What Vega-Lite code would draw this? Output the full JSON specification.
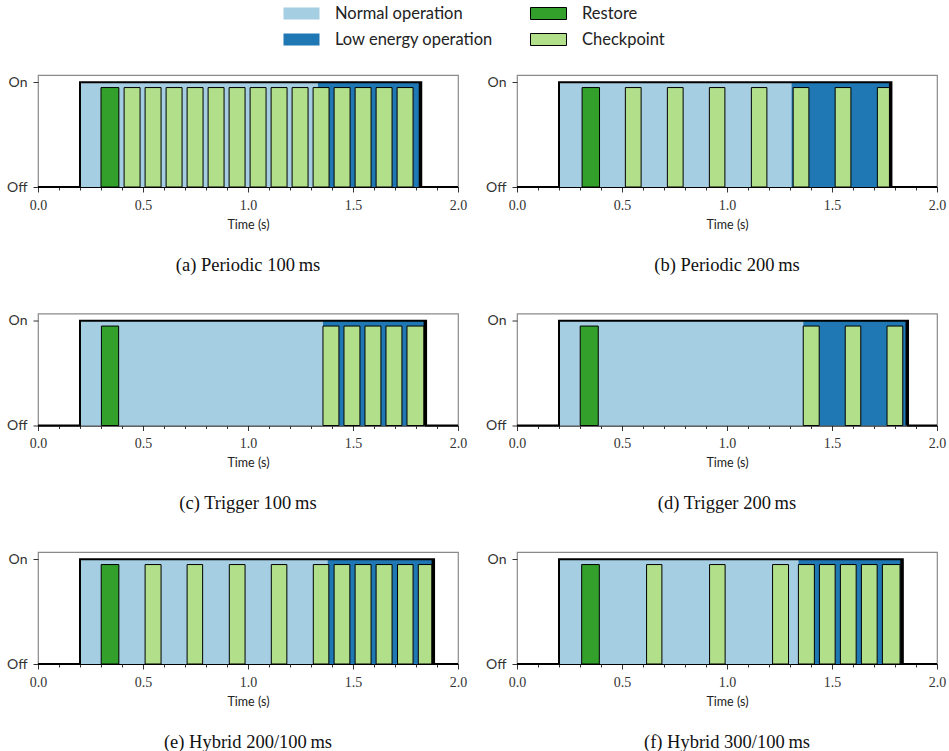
{
  "$schema": "https://vega.github.io/schema/vega-lite/v6.json",
  "padding": {"left": 5, "top": 1, "right": 0, "bottom": 0},
  "datasets": {
    "ops": [
      {"p": "a", "type": "Normal operation", "start": 0.2, "end": 1.333},
      {"p": "a", "type": "Low energy operation", "start": 1.333, "end": 1.825},
      {"p": "b", "type": "Normal operation", "start": 0.2, "end": 1.307},
      {"p": "b", "type": "Low energy operation", "start": 1.307, "end": 1.783},
      {"p": "c", "type": "Normal operation", "start": 0.2, "end": 1.357},
      {"p": "c", "type": "Low energy operation", "start": 1.357, "end": 1.848},
      {"p": "d", "type": "Normal operation", "start": 0.2, "end": 1.363},
      {"p": "d", "type": "Low energy operation", "start": 1.363, "end": 1.862},
      {"p": "e", "type": "Normal operation", "start": 0.2, "end": 1.379},
      {"p": "e", "type": "Low energy operation", "start": 1.379, "end": 1.886},
      {"p": "f", "type": "Normal operation", "start": 0.2, "end": 1.34},
      {"p": "f", "type": "Low energy operation", "start": 1.34, "end": 1.837}
    ],
    "events": [
      {"p": "a", "type": "Restore", "start": 0.3, "end": 0.385},
      {"p": "a", "type": "Checkpoint", "start": 0.41, "end": 0.486},
      {"p": "a", "type": "Checkpoint", "start": 0.51, "end": 0.586},
      {"p": "a", "type": "Checkpoint", "start": 0.61, "end": 0.686},
      {"p": "a", "type": "Checkpoint", "start": 0.71, "end": 0.786},
      {"p": "a", "type": "Checkpoint", "start": 0.81, "end": 0.886},
      {"p": "a", "type": "Checkpoint", "start": 0.91, "end": 0.986},
      {"p": "a", "type": "Checkpoint", "start": 1.01, "end": 1.086},
      {"p": "a", "type": "Checkpoint", "start": 1.11, "end": 1.186},
      {"p": "a", "type": "Checkpoint", "start": 1.21, "end": 1.286},
      {"p": "a", "type": "Checkpoint", "start": 1.31, "end": 1.386},
      {"p": "a", "type": "Checkpoint", "start": 1.41, "end": 1.486},
      {"p": "a", "type": "Checkpoint", "start": 1.51, "end": 1.586},
      {"p": "a", "type": "Checkpoint", "start": 1.61, "end": 1.686},
      {"p": "a", "type": "Checkpoint", "start": 1.71, "end": 1.786},
      {"p": "b", "type": "Restore", "start": 0.31, "end": 0.393},
      {"p": "b", "type": "Checkpoint", "start": 0.516, "end": 0.591},
      {"p": "b", "type": "Checkpoint", "start": 0.716, "end": 0.791},
      {"p": "b", "type": "Checkpoint", "start": 0.916, "end": 0.99},
      {"p": "b", "type": "Checkpoint", "start": 1.116, "end": 1.19},
      {"p": "b", "type": "Checkpoint", "start": 1.315, "end": 1.39},
      {"p": "b", "type": "Checkpoint", "start": 1.515, "end": 1.59},
      {"p": "b", "type": "Checkpoint", "start": 1.716, "end": 1.777},
      {"p": "c", "type": "Restore", "start": 0.302, "end": 0.384},
      {"p": "c", "type": "Checkpoint", "start": 1.357, "end": 1.433},
      {"p": "c", "type": "Checkpoint", "start": 1.457, "end": 1.533},
      {"p": "c", "type": "Checkpoint", "start": 1.557, "end": 1.633},
      {"p": "c", "type": "Checkpoint", "start": 1.657, "end": 1.733},
      {"p": "c", "type": "Checkpoint", "start": 1.757, "end": 1.838},
      {"p": "d", "type": "Restore", "start": 0.301, "end": 0.387},
      {"p": "d", "type": "Checkpoint", "start": 1.363, "end": 1.439},
      {"p": "d", "type": "Checkpoint", "start": 1.563, "end": 1.637},
      {"p": "d", "type": "Checkpoint", "start": 1.762, "end": 1.837},
      {"p": "e", "type": "Restore", "start": 0.301, "end": 0.385},
      {"p": "e", "type": "Checkpoint", "start": 0.51, "end": 0.586},
      {"p": "e", "type": "Checkpoint", "start": 0.71, "end": 0.784},
      {"p": "e", "type": "Checkpoint", "start": 0.911, "end": 0.986},
      {"p": "e", "type": "Checkpoint", "start": 1.111, "end": 1.185},
      {"p": "e", "type": "Checkpoint", "start": 1.311, "end": 1.385},
      {"p": "e", "type": "Checkpoint", "start": 1.41, "end": 1.485},
      {"p": "e", "type": "Checkpoint", "start": 1.51, "end": 1.586},
      {"p": "e", "type": "Checkpoint", "start": 1.61, "end": 1.686},
      {"p": "e", "type": "Checkpoint", "start": 1.712, "end": 1.786},
      {"p": "e", "type": "Checkpoint", "start": 1.811, "end": 1.876},
      {"p": "f", "type": "Restore", "start": 0.308, "end": 0.392},
      {"p": "f", "type": "Checkpoint", "start": 0.617, "end": 0.69},
      {"p": "f", "type": "Checkpoint", "start": 0.917, "end": 0.991},
      {"p": "f", "type": "Checkpoint", "start": 1.217, "end": 1.293},
      {"p": "f", "type": "Checkpoint", "start": 1.34, "end": 1.416},
      {"p": "f", "type": "Checkpoint", "start": 1.44, "end": 1.515},
      {"p": "f", "type": "Checkpoint", "start": 1.54, "end": 1.615},
      {"p": "f", "type": "Checkpoint", "start": 1.64, "end": 1.715},
      {"p": "f", "type": "Checkpoint", "start": 1.74, "end": 1.824}
    ],
    "power": [
      {"p": "a", "t": 0, "v": 0}, {"p": "a", "t": 0.2, "v": 1}, {"p": "a", "t": 1.825, "v": 0}, {"p": "a", "t": 2, "v": 0},
      {"p": "b", "t": 0, "v": 0}, {"p": "b", "t": 0.2, "v": 1}, {"p": "b", "t": 1.783, "v": 0}, {"p": "b", "t": 2, "v": 0},
      {"p": "c", "t": 0, "v": 0}, {"p": "c", "t": 0.2, "v": 1}, {"p": "c", "t": 1.848, "v": 0}, {"p": "c", "t": 2, "v": 0},
      {"p": "d", "t": 0, "v": 0}, {"p": "d", "t": 0.2, "v": 1}, {"p": "d", "t": 1.862, "v": 0}, {"p": "d", "t": 2, "v": 0},
      {"p": "e", "t": 0, "v": 0}, {"p": "e", "t": 0.2, "v": 1}, {"p": "e", "t": 1.886, "v": 0}, {"p": "e", "t": 2, "v": 0},
      {"p": "f", "t": 0, "v": 0}, {"p": "f", "t": 0.2, "v": 1}, {"p": "f", "t": 1.837, "v": 0}, {"p": "f", "t": 2, "v": 0}
    ]
  },
  "columns": 2,
  "spacing": {"row": 37.5, "column": 16},
  "concat": [
    {
      "width": 420, "height": 112,
      "title": {"text": "(a) Periodic 100\u2009ms", "orient": "bottom", "offset": 25},
      "resolve": {"axis": {"x": "independent"}},
      "layer": [
        {"data": {"name": "ops"}, "transform": [{"filter": "datum.p == 'a'"}], "mark": {"type": "rect"},
         "encoding": {
           "x": {"field": "start", "type": "quantitative", "title": "Time (s)", "scale": {"domain": [0, 2], "nice": false, "zero": false},
                 "axis": {"orient": "bottom", "values": [0, 0.5, 1, 1.5, 2], "format": ".1f", "tickSize": 5}},
           "x2": {"field": "end"},
           "y": {"datum": 0, "type": "quantitative", "title": null, "scale": {"domain": [0, 1.07], "nice": false, "zero": false}, "axis": {"values": [0, 1], "labelExpr": "datum.value >= 1 ? 'On' : 'Off'"}},
           "y2": {"datum": 1},
           "fill": {"field": "type", "type": "nominal", "scale": {"domain": ["Normal operation", "Low energy operation", "Restore", "Checkpoint"], "range": ["#a6cee3", "#1f78b4", "#33a02c", "#b2df8a"]}},
           "stroke": {"field": "type", "type": "nominal", "scale": {"domain": ["Normal operation", "Low energy operation", "Restore", "Checkpoint"], "range": ["transparent", "transparent", "#000000", "#000000"]}}
         }},
        {"data": {"name": "events"}, "transform": [{"filter": "datum.p == 'a'"}], "mark": {"type": "rect", "strokeWidth": 1},
         "encoding": {
           "x": {"field": "start", "type": "quantitative", "axis": null},
           "x2": {"field": "end"},
           "y": {"datum": 0, "type": "quantitative", "title": null},
           "y2": {"datum": 0.95},
           "fill": {"field": "type", "type": "nominal", "scale": {"domain": ["Normal operation", "Low energy operation", "Restore", "Checkpoint"], "range": ["#a6cee3", "#1f78b4", "#33a02c", "#b2df8a"]}},
           "stroke": {"field": "type", "type": "nominal", "scale": {"domain": ["Normal operation", "Low energy operation", "Restore", "Checkpoint"], "range": ["transparent", "transparent", "#000000", "#000000"]}}
         }},
        {"data": {"name": "power"}, "transform": [{"filter": "datum.p == 'a'"}], "mark": {"type": "line", "interpolate": "step-after", "color": "#000000", "strokeWidth": 2},
         "encoding": {"x": {"field": "t", "type": "quantitative", "axis": {"orient": "bottom", "values": [0.1,0.2,0.3,0.4,0.6,0.7,0.8,0.9,1.1,1.2,1.3,1.4,1.6,1.7,1.8,1.9], "labels": false, "title": null, "tickSize": 3, "domain": false}},
                      "y": {"field": "v", "type": "quantitative", "title": null}}},
        {"data": {"name": "ops"}, "transform": [{"filter": "datum.p == 'a' && datum.type == 'Low energy operation'"}], "mark": {"type": "rule", "color": "#000000", "strokeWidth": 3, "xOffset": -1},
         "encoding": {"x": {"field": "end", "type": "quantitative", "axis": null}, "y": {"datum": 0, "type": "quantitative", "title": null}, "y2": {"datum": 1}}}
      ]
    },
    {
      "width": 420, "height": 112,
      "title": {"text": "(b) Periodic 200\u2009ms", "orient": "bottom", "offset": 25},
      "resolve": {"axis": {"x": "independent"}},
      "layer": [
        {"data": {"name": "ops"}, "transform": [{"filter": "datum.p == 'b'"}], "mark": {"type": "rect"},
         "encoding": {
           "x": {"field": "start", "type": "quantitative", "title": "Time (s)", "scale": {"domain": [0, 2], "nice": false, "zero": false},
                 "axis": {"orient": "bottom", "values": [0, 0.5, 1, 1.5, 2], "format": ".1f", "tickSize": 5}},
           "x2": {"field": "end"},
           "y": {"datum": 0, "type": "quantitative", "title": null, "scale": {"domain": [0, 1.07], "nice": false, "zero": false}, "axis": {"values": [0, 1], "labelExpr": "datum.value >= 1 ? 'On' : 'Off'"}},
           "y2": {"datum": 1},
           "fill": {"field": "type", "type": "nominal", "scale": {"domain": ["Normal operation", "Low energy operation", "Restore", "Checkpoint"], "range": ["#a6cee3", "#1f78b4", "#33a02c", "#b2df8a"]}},
           "stroke": {"field": "type", "type": "nominal", "scale": {"domain": ["Normal operation", "Low energy operation", "Restore", "Checkpoint"], "range": ["transparent", "transparent", "#000000", "#000000"]}}
         }},
        {"data": {"name": "events"}, "transform": [{"filter": "datum.p == 'b'"}], "mark": {"type": "rect", "strokeWidth": 1},
         "encoding": {
           "x": {"field": "start", "type": "quantitative", "axis": null},
           "x2": {"field": "end"},
           "y": {"datum": 0, "type": "quantitative", "title": null},
           "y2": {"datum": 0.95},
           "fill": {"field": "type", "type": "nominal", "scale": {"domain": ["Normal operation", "Low energy operation", "Restore", "Checkpoint"], "range": ["#a6cee3", "#1f78b4", "#33a02c", "#b2df8a"]}},
           "stroke": {"field": "type", "type": "nominal", "scale": {"domain": ["Normal operation", "Low energy operation", "Restore", "Checkpoint"], "range": ["transparent", "transparent", "#000000", "#000000"]}}
         }},
        {"data": {"name": "power"}, "transform": [{"filter": "datum.p == 'b'"}], "mark": {"type": "line", "interpolate": "step-after", "color": "#000000", "strokeWidth": 2},
         "encoding": {"x": {"field": "t", "type": "quantitative", "axis": {"orient": "bottom", "values": [0.1,0.2,0.3,0.4,0.6,0.7,0.8,0.9,1.1,1.2,1.3,1.4,1.6,1.7,1.8,1.9], "labels": false, "title": null, "tickSize": 3, "domain": false}},
                      "y": {"field": "v", "type": "quantitative", "title": null}}},
        {"data": {"name": "ops"}, "transform": [{"filter": "datum.p == 'b' && datum.type == 'Low energy operation'"}], "mark": {"type": "rule", "color": "#000000", "strokeWidth": 3, "xOffset": -1},
         "encoding": {"x": {"field": "end", "type": "quantitative", "axis": null}, "y": {"datum": 0, "type": "quantitative", "title": null}, "y2": {"datum": 1}}}
      ]
    },
    {
      "width": 420, "height": 112,
      "title": {"text": "(c) Trigger 100\u2009ms", "orient": "bottom", "offset": 25},
      "resolve": {"axis": {"x": "independent"}},
      "layer": [
        {"data": {"name": "ops"}, "transform": [{"filter": "datum.p == 'c'"}], "mark": {"type": "rect"},
         "encoding": {
           "x": {"field": "start", "type": "quantitative", "title": "Time (s)", "scale": {"domain": [0, 2], "nice": false, "zero": false},
                 "axis": {"orient": "bottom", "values": [0, 0.5, 1, 1.5, 2], "format": ".1f", "tickSize": 5}},
           "x2": {"field": "end"},
           "y": {"datum": 0, "type": "quantitative", "title": null, "scale": {"domain": [0, 1.07], "nice": false, "zero": false}, "axis": {"values": [0, 1], "labelExpr": "datum.value >= 1 ? 'On' : 'Off'"}},
           "y2": {"datum": 1},
           "fill": {"field": "type", "type": "nominal", "scale": {"domain": ["Normal operation", "Low energy operation", "Restore", "Checkpoint"], "range": ["#a6cee3", "#1f78b4", "#33a02c", "#b2df8a"]}},
           "stroke": {"field": "type", "type": "nominal", "scale": {"domain": ["Normal operation", "Low energy operation", "Restore", "Checkpoint"], "range": ["transparent", "transparent", "#000000", "#000000"]}}
         }},
        {"data": {"name": "events"}, "transform": [{"filter": "datum.p == 'c'"}], "mark": {"type": "rect", "strokeWidth": 1},
         "encoding": {
           "x": {"field": "start", "type": "quantitative", "axis": null},
           "x2": {"field": "end"},
           "y": {"datum": 0, "type": "quantitative", "title": null},
           "y2": {"datum": 0.95},
           "fill": {"field": "type", "type": "nominal", "scale": {"domain": ["Normal operation", "Low energy operation", "Restore", "Checkpoint"], "range": ["#a6cee3", "#1f78b4", "#33a02c", "#b2df8a"]}},
           "stroke": {"field": "type", "type": "nominal", "scale": {"domain": ["Normal operation", "Low energy operation", "Restore", "Checkpoint"], "range": ["transparent", "transparent", "#000000", "#000000"]}}
         }},
        {"data": {"name": "power"}, "transform": [{"filter": "datum.p == 'c'"}], "mark": {"type": "line", "interpolate": "step-after", "color": "#000000", "strokeWidth": 2},
         "encoding": {"x": {"field": "t", "type": "quantitative", "axis": {"orient": "bottom", "values": [0.1,0.2,0.3,0.4,0.6,0.7,0.8,0.9,1.1,1.2,1.3,1.4,1.6,1.7,1.8,1.9], "labels": false, "title": null, "tickSize": 3, "domain": false}},
                      "y": {"field": "v", "type": "quantitative", "title": null}}},
        {"data": {"name": "ops"}, "transform": [{"filter": "datum.p == 'c' && datum.type == 'Low energy operation'"}], "mark": {"type": "rule", "color": "#000000", "strokeWidth": 3, "xOffset": -1},
         "encoding": {"x": {"field": "end", "type": "quantitative", "axis": null}, "y": {"datum": 0, "type": "quantitative", "title": null}, "y2": {"datum": 1}}}
      ]
    },
    {
      "width": 420, "height": 112,
      "title": {"text": "(d) Trigger 200\u2009ms", "orient": "bottom", "offset": 25},
      "resolve": {"axis": {"x": "independent"}},
      "layer": [
        {"data": {"name": "ops"}, "transform": [{"filter": "datum.p == 'd'"}], "mark": {"type": "rect"},
         "encoding": {
           "x": {"field": "start", "type": "quantitative", "title": "Time (s)", "scale": {"domain": [0, 2], "nice": false, "zero": false},
                 "axis": {"orient": "bottom", "values": [0, 0.5, 1, 1.5, 2], "format": ".1f", "tickSize": 5}},
           "x2": {"field": "end"},
           "y": {"datum": 0, "type": "quantitative", "title": null, "scale": {"domain": [0, 1.07], "nice": false, "zero": false}, "axis": {"values": [0, 1], "labelExpr": "datum.value >= 1 ? 'On' : 'Off'"}},
           "y2": {"datum": 1},
           "fill": {"field": "type", "type": "nominal", "scale": {"domain": ["Normal operation", "Low energy operation", "Restore", "Checkpoint"], "range": ["#a6cee3", "#1f78b4", "#33a02c", "#b2df8a"]}},
           "stroke": {"field": "type", "type": "nominal", "scale": {"domain": ["Normal operation", "Low energy operation", "Restore", "Checkpoint"], "range": ["transparent", "transparent", "#000000", "#000000"]}}
         }},
        {"data": {"name": "events"}, "transform": [{"filter": "datum.p == 'd'"}], "mark": {"type": "rect", "strokeWidth": 1},
         "encoding": {
           "x": {"field": "start", "type": "quantitative", "axis": null},
           "x2": {"field": "end"},
           "y": {"datum": 0, "type": "quantitative", "title": null},
           "y2": {"datum": 0.95},
           "fill": {"field": "type", "type": "nominal", "scale": {"domain": ["Normal operation", "Low energy operation", "Restore", "Checkpoint"], "range": ["#a6cee3", "#1f78b4", "#33a02c", "#b2df8a"]}},
           "stroke": {"field": "type", "type": "nominal", "scale": {"domain": ["Normal operation", "Low energy operation", "Restore", "Checkpoint"], "range": ["transparent", "transparent", "#000000", "#000000"]}}
         }},
        {"data": {"name": "power"}, "transform": [{"filter": "datum.p == 'd'"}], "mark": {"type": "line", "interpolate": "step-after", "color": "#000000", "strokeWidth": 2},
         "encoding": {"x": {"field": "t", "type": "quantitative", "axis": {"orient": "bottom", "values": [0.1,0.2,0.3,0.4,0.6,0.7,0.8,0.9,1.1,1.2,1.3,1.4,1.6,1.7,1.8,1.9], "labels": false, "title": null, "tickSize": 3, "domain": false}},
                      "y": {"field": "v", "type": "quantitative", "title": null}}},
        {"data": {"name": "ops"}, "transform": [{"filter": "datum.p == 'd' && datum.type == 'Low energy operation'"}], "mark": {"type": "rule", "color": "#000000", "strokeWidth": 3, "xOffset": -1},
         "encoding": {"x": {"field": "end", "type": "quantitative", "axis": null}, "y": {"datum": 0, "type": "quantitative", "title": null}, "y2": {"datum": 1}}}
      ]
    },
    {
      "width": 420, "height": 112,
      "title": {"text": "(e) Hybrid 200/100\u2009ms", "orient": "bottom", "offset": 25},
      "resolve": {"axis": {"x": "independent"}},
      "layer": [
        {"data": {"name": "ops"}, "transform": [{"filter": "datum.p == 'e'"}], "mark": {"type": "rect"},
         "encoding": {
           "x": {"field": "start", "type": "quantitative", "title": "Time (s)", "scale": {"domain": [0, 2], "nice": false, "zero": false},
                 "axis": {"orient": "bottom", "values": [0, 0.5, 1, 1.5, 2], "format": ".1f", "tickSize": 5}},
           "x2": {"field": "end"},
           "y": {"datum": 0, "type": "quantitative", "title": null, "scale": {"domain": [0, 1.07], "nice": false, "zero": false}, "axis": {"values": [0, 1], "labelExpr": "datum.value >= 1 ? 'On' : 'Off'"}},
           "y2": {"datum": 1},
           "fill": {"field": "type", "type": "nominal", "scale": {"domain": ["Normal operation", "Low energy operation", "Restore", "Checkpoint"], "range": ["#a6cee3", "#1f78b4", "#33a02c", "#b2df8a"]}},
           "stroke": {"field": "type", "type": "nominal", "scale": {"domain": ["Normal operation", "Low energy operation", "Restore", "Checkpoint"], "range": ["transparent", "transparent", "#000000", "#000000"]}}
         }},
        {"data": {"name": "events"}, "transform": [{"filter": "datum.p == 'e'"}], "mark": {"type": "rect", "strokeWidth": 1},
         "encoding": {
           "x": {"field": "start", "type": "quantitative", "axis": null},
           "x2": {"field": "end"},
           "y": {"datum": 0, "type": "quantitative", "title": null},
           "y2": {"datum": 0.95},
           "fill": {"field": "type", "type": "nominal", "scale": {"domain": ["Normal operation", "Low energy operation", "Restore", "Checkpoint"], "range": ["#a6cee3", "#1f78b4", "#33a02c", "#b2df8a"]}},
           "stroke": {"field": "type", "type": "nominal", "scale": {"domain": ["Normal operation", "Low energy operation", "Restore", "Checkpoint"], "range": ["transparent", "transparent", "#000000", "#000000"]}}
         }},
        {"data": {"name": "power"}, "transform": [{"filter": "datum.p == 'e'"}], "mark": {"type": "line", "interpolate": "step-after", "color": "#000000", "strokeWidth": 2},
         "encoding": {"x": {"field": "t", "type": "quantitative", "axis": {"orient": "bottom", "values": [0.1,0.2,0.3,0.4,0.6,0.7,0.8,0.9,1.1,1.2,1.3,1.4,1.6,1.7,1.8,1.9], "labels": false, "title": null, "tickSize": 3, "domain": false}},
                      "y": {"field": "v", "type": "quantitative", "title": null}}},
        {"data": {"name": "ops"}, "transform": [{"filter": "datum.p == 'e' && datum.type == 'Low energy operation'"}], "mark": {"type": "rule", "color": "#000000", "strokeWidth": 3, "xOffset": -1},
         "encoding": {"x": {"field": "end", "type": "quantitative", "axis": null}, "y": {"datum": 0, "type": "quantitative", "title": null}, "y2": {"datum": 1}}}
      ]
    },
    {
      "width": 420, "height": 112,
      "title": {"text": "(f) Hybrid 300/100\u2009ms", "orient": "bottom", "offset": 25},
      "resolve": {"axis": {"x": "independent"}},
      "layer": [
        {"data": {"name": "ops"}, "transform": [{"filter": "datum.p == 'f'"}], "mark": {"type": "rect"},
         "encoding": {
           "x": {"field": "start", "type": "quantitative", "title": "Time (s)", "scale": {"domain": [0, 2], "nice": false, "zero": false},
                 "axis": {"orient": "bottom", "values": [0, 0.5, 1, 1.5, 2], "format": ".1f", "tickSize": 5}},
           "x2": {"field": "end"},
           "y": {"datum": 0, "type": "quantitative", "title": null, "scale": {"domain": [0, 1.07], "nice": false, "zero": false}, "axis": {"values": [0, 1], "labelExpr": "datum.value >= 1 ? 'On' : 'Off'"}},
           "y2": {"datum": 1},
           "fill": {"field": "type", "type": "nominal", "scale": {"domain": ["Normal operation", "Low energy operation", "Restore", "Checkpoint"], "range": ["#a6cee3", "#1f78b4", "#33a02c", "#b2df8a"]}},
           "stroke": {"field": "type", "type": "nominal", "scale": {"domain": ["Normal operation", "Low energy operation", "Restore", "Checkpoint"], "range": ["transparent", "transparent", "#000000", "#000000"]}}
         }},
        {"data": {"name": "events"}, "transform": [{"filter": "datum.p == 'f'"}], "mark": {"type": "rect", "strokeWidth": 1},
         "encoding": {
           "x": {"field": "start", "type": "quantitative", "axis": null},
           "x2": {"field": "end"},
           "y": {"datum": 0, "type": "quantitative", "title": null},
           "y2": {"datum": 0.95},
           "fill": {"field": "type", "type": "nominal", "scale": {"domain": ["Normal operation", "Low energy operation", "Restore", "Checkpoint"], "range": ["#a6cee3", "#1f78b4", "#33a02c", "#b2df8a"]}},
           "stroke": {"field": "type", "type": "nominal", "scale": {"domain": ["Normal operation", "Low energy operation", "Restore", "Checkpoint"], "range": ["transparent", "transparent", "#000000", "#000000"]}}
         }},
        {"data": {"name": "power"}, "transform": [{"filter": "datum.p == 'f'"}], "mark": {"type": "line", "interpolate": "step-after", "color": "#000000", "strokeWidth": 2},
         "encoding": {"x": {"field": "t", "type": "quantitative", "axis": {"orient": "bottom", "values": [0.1,0.2,0.3,0.4,0.6,0.7,0.8,0.9,1.1,1.2,1.3,1.4,1.6,1.7,1.8,1.9], "labels": false, "title": null, "tickSize": 3, "domain": false}},
                      "y": {"field": "v", "type": "quantitative", "title": null}}},
        {"data": {"name": "ops"}, "transform": [{"filter": "datum.p == 'f' && datum.type == 'Low energy operation'"}], "mark": {"type": "rule", "color": "#000000", "strokeWidth": 3, "xOffset": -1},
         "encoding": {"x": {"field": "end", "type": "quantitative", "axis": null}, "y": {"datum": 0, "type": "quantitative", "title": null}, "y2": {"datum": 1}}}
      ]
    }
  ],
  "config": {
    "view": {"stroke": "#8a8a8a", "strokeWidth": 1.2},
    "axis": {"grid": false},
    "axisX": {"labelFont": "Liberation Serif", "labelFontSize": 14, "labelColor": "#333333", "labelPadding": 6, "labelFlush": false, "labelOverlap": false,
              "titleFont": "Lato", "titleFontSize": 12.5, "titleFontWeight": "normal", "titleColor": "#222222", "titlePadding": 6,
              "tickColor": "#333333", "domainColor": "#000000", "domainWidth": 1},
    "axisY": {"labelFont": "Lato", "labelFontSize": 14, "labelColor": "#333333", "labelPadding": 6, "labelFlush": false, "labelBaseline": "middle",
              "tickSize": 5, "tickColor": "#333333", "domain": false, "minExtent": 30, "maxExtent": 30},
    "title": {"font": "Liberation Serif", "fontSize": 18.5, "fontWeight": "normal", "color": "#111111", "anchor": "middle"},
    "legend": {"orient": "none", "legendX": 245, "legendY": -74, "columns": 2, "title": null, "padding": 0,
               "symbolType": "M-1,-0.5L2,-0.5L2,0.5L-1,0.5Z", "symbolSize": 576, "symbolStrokeWidth": 1, "symbolOpacity": 1,
               "labelOffset": 27, "labelFont": "Lato", "labelFontSize": 16.5, "labelLimit": 300, "labelColor": "#222222",
               "rowPadding": 5, "columnPadding": 34}
  }
}
